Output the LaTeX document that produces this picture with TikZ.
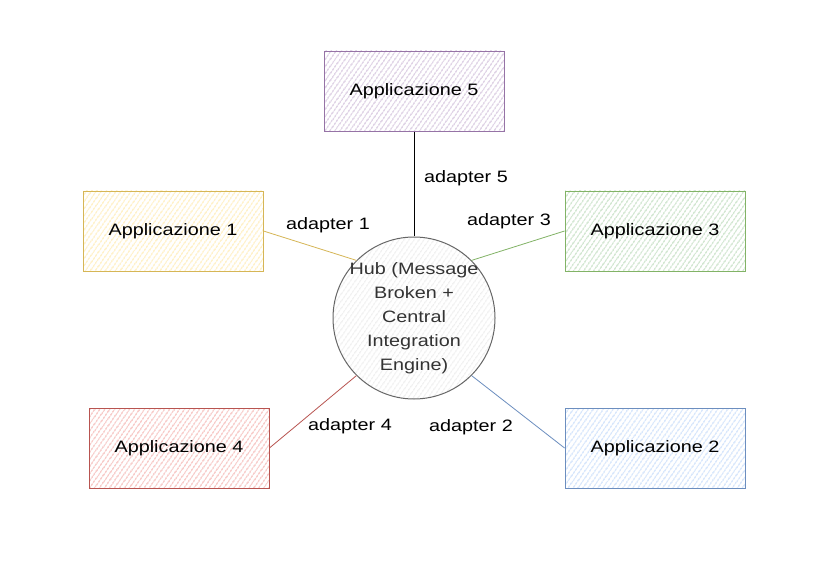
\documentclass[tikz,border=0pt]{standalone}
\usepackage{fontspec}
\setmainfont[FakeStretch=1.2]{Liberation Sans}
\usepackage{xcolor}
\usetikzlibrary{patterns.meta}
\definecolor{PurpleLine}{HTML}{9673A6}
\definecolor{PurpleFill}{HTML}{E1D5E7}
\definecolor{YellowLine}{HTML}{D6B656}
\definecolor{YellowFill}{HTML}{FFF2CC}
\definecolor{GreenLine}{HTML}{82B366}
\definecolor{GreenFill}{HTML}{D5E8D4}
\definecolor{RedLine}{HTML}{B85450}
\definecolor{RedFill}{HTML}{F8CECC}
\definecolor{BlueLine}{HTML}{6C8EBF}
\definecolor{BlueFill}{HTML}{DAE8FC}
\definecolor{HubLine}{HTML}{666666}
\definecolor{HubFill}{HTML}{E6E6E6}
\definecolor{HubText}{HTML}{333333}
\tikzset{
  appbox/.style={draw=#1Line, line width=0.9pt, pattern={Lines[angle=55,distance=4pt,line width=1.6pt]}, pattern color=#1Fill, minimum width=180pt, minimum height=80pt, inner sep=0pt},
  hubnode/.style={circle, draw=HubLine, line width=1pt, pattern={Lines[angle=55,distance=4pt,line width=1pt]}, pattern color=HubFill, minimum size=162pt, inner sep=-14pt, align=center, text=HubText, font=\fontsize{16.5}{24}\selectfont},
  link/.style={line width=0.8pt, draw=#1},
  adapter/.style={font=\fontsize{16.5}{20}\selectfont}
}
\begin{document}
\begin{tikzpicture}[x=1pt, y=-1pt, font=\fontsize{16.5}{20}\selectfont]
    \useasboundingbox[fill=white] (0,0) rectangle (827,585);
    \node[hubnode] (hub) at (414,318) {Hub (Message\\Broken +\\Central\\Integration\\Engine)};
    \node[appbox=Purple] (app5) at (414,91) {Applicazione 5};
    \node[appbox=Yellow] (app1) at (173,231) {Applicazione 1};
    \node[appbox=Green] (app3) at (655,231) {Applicazione 3};
    \node[appbox=Red] (app4) at (179,448) {Applicazione 4};
    \node[appbox=Blue] (app2) at (655,448) {Applicazione 2};

    \draw[link=black] (app5.south) -- (hub.north);
    \draw[link=YellowLine] (app1.east) -- (hub.135);
    \draw[link=GreenLine] (app3.west) -- (hub.45);
    \draw[link=RedLine] (app4.east) -- (hub.225);
    \draw[link=BlueLine] (app2.west) -- (hub.315);

    \node[adapter] (lbl5) at (466,178) {adapter 5};
    \node[adapter] (lbl1) at (328,225) {adapter 1};
    \node[adapter] (lbl3) at (509,221) {adapter 3};
    \node[adapter] (lbl4) at (350,426) {adapter 4};
    \node[adapter] (lbl2) at (471,427) {adapter 2};
  \end{tikzpicture}
\end{document}
